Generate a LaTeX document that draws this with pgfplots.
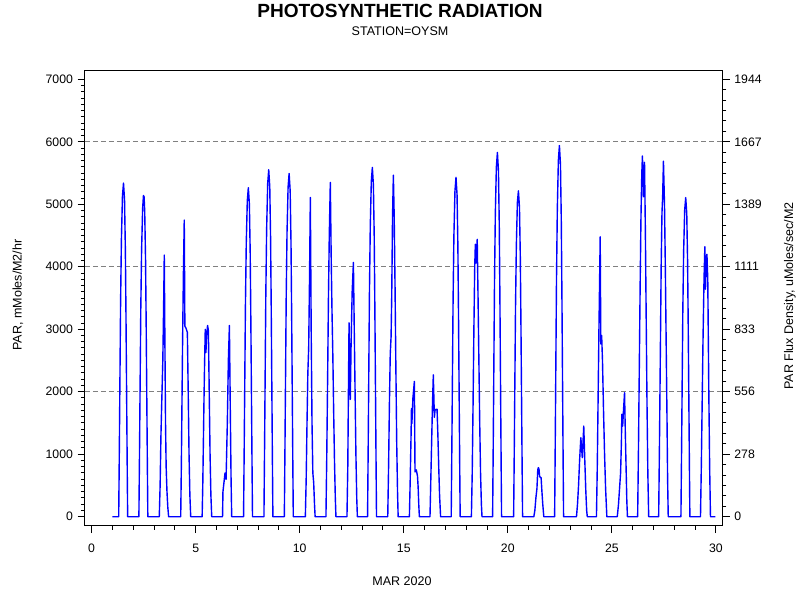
\documentclass[border=0pt]{standalone}
\usepackage{fontspec}
\setmainfont{Liberation Sans}
\usepackage{pgfplots}
\pgfplotsset{compat=1.18}
\begin{document}
\begin{tikzpicture}
\pgfplotsset{
  common/.style={
    width=478pt, height=341.25pt, scale only axis,
    at={(0pt,0pt)}, anchor=south west,
    xmin=-0.32, xmax=30.31, ymin=-144, ymax=7138,
    tick align=outside,
    major tick length=5.5pt, minor tick length=3pt,
    every tick/.style={black, line width=0.75pt},
    tick label style={font=\fontsize{9.2}{11}\selectfont},
    /pgf/number format/assume math mode=true,
    /pgf/number format/1000 sep={},
    axis line style={line width=0.75pt},
  }
}
\path[use as bounding box] (-63.75pt,-55.725pt) rectangle (536.25pt,394.275pt);
\begin{axis}[common,
  xtick={0,5,...,30}, minor x tick num=4, xtick pos=bottom,
  xticklabel style={yshift=-4.5pt},
  ytick={0,1000,...,7000}, minor y tick num=9, ytick pos=left,
  extra y ticks={2000,4000,6000}, extra y tick labels={},
  extra y tick style={grid=major, major tick length=0pt,
    major grid style={gray, line width=0.7pt, dash pattern=on 3.75pt off 2.25pt}},
]
\addplot[blue, line width=1.05pt, line join=round, mark=none] coordinates {
(1.00,0)
(1.30,0)(1.33,1068)(1.36,2243)(1.39,3418)(1.43,4432)(1.48,5126)(1.53,5340)(1.58,5073)(1.62,4272)(1.65,3204)(1.68,1976)(1.71,748)(1.73,0)
(2.27,0)(2.30,1028)(2.33,2159)(2.36,3290)(2.40,4266)(2.45,4934)(2.49,5140)(2.52,5120)(2.55,4883)(2.59,4112)(2.62,3084)(2.65,1902)(2.68,720)(2.70,0)
(3.25,0)(3.29,500)(3.33,1300)(3.37,1850)(3.42,2500)(3.46,3400)(3.49,4188)(3.52,2800)(3.55,1500)(3.58,800)(3.62,400)(3.66,150)(3.70,0)
(4.28,0)(4.31,800)(4.34,1800)(4.37,2800)(4.41,3900)(4.45,4748)(4.48,3050)(4.53,3020)(4.60,2950)(4.64,2000)(4.68,1000)(4.72,350)(4.76,0)
(5.31,0)(5.34,500)(5.37,1200)(5.40,1900)(5.43,2500)(5.46,2998)(5.49,2627)(5.53,2900)(5.57,3060)(5.61,2980)(5.65,2000)(5.69,1000)(5.73,350)(5.77,0)
(6.29,0)(6.31,400)(6.36,550)(6.41,700)(6.46,600)(6.52,1500)(6.57,2500)(6.62,3060)(6.66,1800)(6.70,600)(6.73,0)
(7.30,0)(7.33,1053)(7.36,2211)(7.39,3370)(7.43,4370)(7.48,5054)(7.53,5265)(7.58,5002)(7.62,4212)(7.65,3159)(7.68,1948)(7.71,737)(7.73,0)
(8.28,0)(8.31,1111)(8.34,2332)(8.37,3554)(8.41,4609)(8.46,5331)(8.51,5553)(8.56,5275)(8.60,4442)(8.63,3332)(8.66,2055)(8.69,777)(8.71,0)
(9.26,0)(9.29,1099)(9.32,2307)(9.35,3516)(9.39,4559)(9.44,5273)(9.49,5493)(9.54,5218)(9.58,4394)(9.61,3296)(9.64,2032)(9.67,769)(9.69,0)
(10.27,0)(10.31,600)(10.35,1500)(10.39,2300)(10.43,2700)(10.47,3800)(10.51,5108)(10.55,3000)(10.59,1500)(10.63,700)(10.67,550)(10.71,200)(10.74,0)
(11.26,0)(11.30,1000)(11.34,2200)(11.38,3500)(11.42,4500)(11.47,5350)(11.51,4200)(11.55,3300)(11.59,2600)(11.63,1700)(11.67,900)(11.71,300)(11.74,0)
(12.27,0)(12.31,800)(12.34,2000)(12.37,3102)(12.40,2300)(12.43,1878)(12.47,2800)(12.52,3600)(12.58,4070)(12.62,3000)(12.66,2000)(12.70,1000)(12.74,300)(12.77,0)
(13.26,0)(13.29,1118)(13.32,2348)(13.35,3578)(13.39,4640)(13.44,5366)(13.49,5590)(13.54,5311)(13.58,4472)(13.61,3354)(13.64,2068)(13.67,783)(13.69,0)
(14.23,0)(14.27,800)(14.31,1800)(14.35,2600)(14.39,2880)(14.42,3500)(14.46,4800)(14.50,5467)(14.54,4800)(14.58,3700)(14.62,2400)(14.66,1200)(14.70,400)(14.73,0)
(15.27,0)(15.31,600)(15.35,1300)(15.37,1730)(15.39,1490)(15.44,1900)(15.51,2166)(15.54,717)(15.60,750)(15.66,650)(15.69,475)(15.72,200)(15.75,0)
(16.26,0)(16.30,600)(16.34,1200)(16.38,1800)(16.42,2270)(16.47,1590)(16.50,1700)(16.55,1720)(16.60,1720)(16.64,1300)(16.68,800)(16.72,350)(16.77,0)
(17.28,0)(17.31,1086)(17.34,2281)(17.37,3475)(17.41,4507)(17.46,5213)(17.51,5430)(17.56,5159)(17.60,4344)(17.63,3258)(17.66,2009)(17.69,760)(17.71,0)
(18.25,0)(18.29,700)(18.33,1800)(18.37,3000)(18.41,4000)(18.44,4360)(18.48,4060)(18.53,4440)(18.57,3500)(18.61,2500)(18.65,1500)(18.69,700)(18.73,200)(18.76,0)
(19.27,0)(19.30,1166)(19.33,2449)(19.36,3731)(19.40,4839)(19.45,5597)(19.50,5830)(19.55,5539)(19.59,4664)(19.62,3498)(19.65,2157)(19.68,816)(19.70,0)
(20.28,0)(20.31,1043)(20.34,2190)(20.37,3338)(20.41,4328)(20.46,5030)(20.51,5215)(20.56,4954)(20.60,4172)(20.63,3129)(20.66,1930)(20.69,730)(20.71,0)
(21.25,0)(21.30,100)(21.35,300)(21.40,450)(21.44,750)(21.47,785)(21.50,760)(21.53,640)(21.60,625)(21.64,400)(21.68,200)(21.73,0)
(22.25,0)(22.28,1188)(22.31,2495)(22.34,3802)(22.38,4930)(22.43,5702)(22.48,5940)(22.53,5643)(22.57,4752)(22.60,3564)(22.63,2198)(22.66,832)(22.68,0)
(23.30,0)(23.35,200)(23.40,500)(23.45,900)(23.51,1265)(23.58,945)(23.65,1450)(23.70,900)(23.75,400)(23.79,100)(23.82,0)
(24.26,0)(24.30,800)(24.34,1900)(24.38,3000)(24.44,4480)(24.47,2764)(24.51,2900)(24.55,2500)(24.60,1700)(24.65,1000)(24.70,450)(24.76,0)
(25.26,0)(25.32,200)(25.38,500)(25.42,700)(25.46,1200)(25.48,1640)(25.52,1450)(25.56,1700)(25.61,1985)(25.65,1300)(25.69,700)(25.72,250)(25.75,0)
(26.24,0)(26.28,1100)(26.32,2400)(26.36,3700)(26.40,4800)(26.44,5500)(26.47,5773)(26.52,5120)(26.57,5670)(26.61,4600)(26.65,3200)(26.69,1800)(26.73,700)(26.77,0)
(27.25,0)(27.29,1200)(27.33,2600)(27.37,4000)(27.41,4870)(27.44,5100)(27.48,5690)(27.53,5000)(27.57,4000)(27.61,2800)(27.65,1600)(27.68,600)(27.71,0)
(28.32,0)(28.35,1022)(28.38,2145)(28.41,3269)(28.45,4240)(28.50,4904)(28.55,5108)(28.60,4853)(28.64,4086)(28.67,3065)(28.70,1890)(28.73,715)(28.75,0)
(29.26,0)(29.30,800)(29.34,1800)(29.38,2800)(29.43,3800)(29.47,4320)(29.50,3640)(29.54,4150)(29.57,4200)(29.61,3800)(29.66,2000)(29.70,800)(29.74,0)(29.98,0)
};
\end{axis}
\begin{axis}[common,
  axis x line=none, axis y line*=right,
  ytick={0,1000,...,7000},
  yticklabels={0,278,556,833,1111,1389,1667,1944},
  minor y tick num=5,
]
\end{axis}
\node[font=\fontsize{14.3}{16}\selectfont\bfseries, anchor=base] at (236.25pt,380.8pt) {PHOTOSYNTHETIC RADIATION};
\node[font=\fontsize{9.4}{11}\selectfont, anchor=base] at (236.25pt,368.0pt) {STATION=OYSM};
\node[font=\fontsize{9.4}{11}\selectfont, anchor=base] at (237.75pt,-44.5pt) {MAR 2020};
\node[font=\fontsize{9.4}{11}\selectfont, rotate=90, anchor=center] at (-50.25pt,173.0pt) {PAR, mMoles/M2/hr};
\node[font=\fontsize{9.4}{11}\selectfont, rotate=90, anchor=center] at (528.75pt,172.3pt) {PAR Flux Density, uMoles/sec/M2};
\end{tikzpicture}
\end{document}
